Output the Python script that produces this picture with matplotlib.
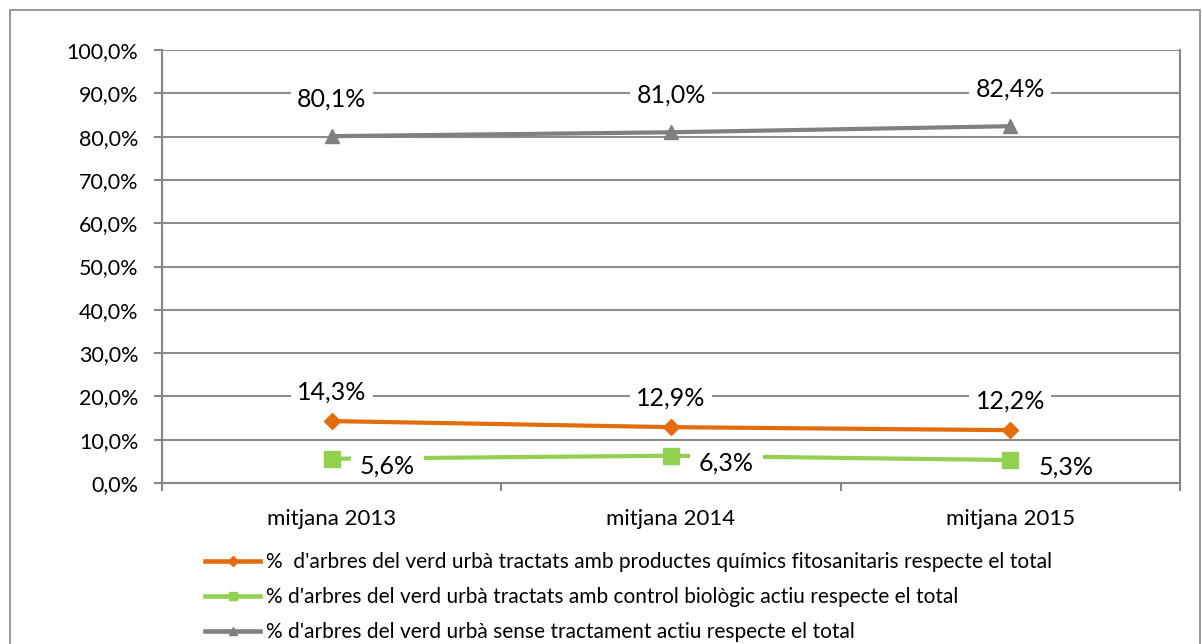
import matplotlib.pyplot as plt
from matplotlib.patches import Rectangle
from matplotlib.lines import Line2D
from matplotlib.ticker import FuncFormatter

plt.rcParams['font.family'] = ['Lato', 'DejaVu Sans']

# dades
categories = ['mitjana 2013', 'mitjana 2014', 'mitjana 2015']
quimics = [14.3, 12.9, 12.2]
biologic = [5.6, 6.3, 5.3]
sense = [80.1, 81.0, 82.4]
noms = [
    "%  d'arbres del verd urbà tractats amb productes químics fitosanitaris respecte el total",
    "% d'arbres del verd urbà tractats amb control biològic actiu respecte el total",
    "% d'arbres del verd urbà sense tractament actiu respecte el total",
]

taronja = '#E46C0A'
verd = '#92D050'
gris = '#808080'

def pct(v):
    return f'{v:.1f}%'.replace('.', ',')

fig = plt.figure(figsize=(12.02, 6.44), dpi=100)
ax = fig.add_axes([162 / 1202, 1 - 483 / 644, (1180 - 162) / 1202, (483 - 50) / 644])

x = list(range(len(categories)))
ax.plot(x, quimics, color=taronja, lw=3, marker='D', ms=8, zorder=4)
ax.plot(x, biologic, color=verd, lw=3, marker='s', ms=11, zorder=4)
ax.plot(x, sense, color=gris, lw=3, marker='^', ms=10, zorder=4)

caixa = dict(boxstyle='square,pad=0.25', fc='white', ec='none')
for xi, v in zip(x, sense):
    ax.annotate(pct(v), (xi, v), xytext=(0, 27), textcoords='offset points',
                ha='center', va='center', fontsize=18, bbox=caixa, zorder=5)
for xi, v in zip(x, quimics):
    ax.annotate(pct(v), (xi, v), xytext=(0, 21), textcoords='offset points',
                ha='center', va='center', fontsize=18, bbox=caixa, zorder=5)
for xi, v in zip(x, biologic):
    ax.annotate(pct(v), (xi, v), xytext=(40, -5), textcoords='offset points',
                ha='center', va='center', fontsize=18,
                bbox=dict(boxstyle='square,pad=0.35', fc='white', ec='none'), zorder=5)

ax.set_xlim(-0.5, 2.5)
ax.set_ylim(0, 100)
ax.set_yticks(range(0, 101, 10))
ax.yaxis.set_major_formatter(FuncFormatter(lambda v, p: pct(v)))
ax.set_xticks(x)
ax.set_xticklabels(categories)
ax.set_xticks([-0.5, 0.5, 1.5, 2.5], minor=True)
ax.tick_params(axis='x', which='major', length=0, pad=19, labelsize=16)
ax.tick_params(axis='x', which='minor', length=6, color='#868686', width=1.5)
ax.tick_params(axis='y', length=6, color='#868686', width=1.5, labelsize=15.5, pad=11)
ax.grid(axis='y', color='#8C8C8C', lw=1.5, zorder=1)
ax.set_axisbelow(True)
ax.spines['top'].set_visible(False)
for s in ['left', 'bottom', 'right']:
    ax.spines[s].set_color('#868686')
    ax.spines[s].set_linewidth(1.5)
    ax.spines[s].set_zorder(6)

handles = [
    Line2D([], [], color=taronja, lw=3.3, marker='D', ms=5),
    Line2D([], [], color=verd, lw=3.3, marker='s', ms=6),
    Line2D([], [], color=gris, lw=3.3, marker='^', ms=6),
]
fig.legend(handles=handles, labels=noms, loc='upper left', bbox_to_anchor=(205 / 1202, 1 - 552 / 644),
           frameon=False, fontsize=15, handlelength=2.65, handletextpad=0.3, labelspacing=0.72,
           borderaxespad=0, borderpad=0)

fig.patches.append(Rectangle((10 / 1202, -0.01), (1200 - 10) / 1202, 1 - 10 / 644 + 0.01,
                             transform=fig.transFigure, fill=False, ec='#868686', lw=1.2))

fig.savefig('out.png', dpi=100)
